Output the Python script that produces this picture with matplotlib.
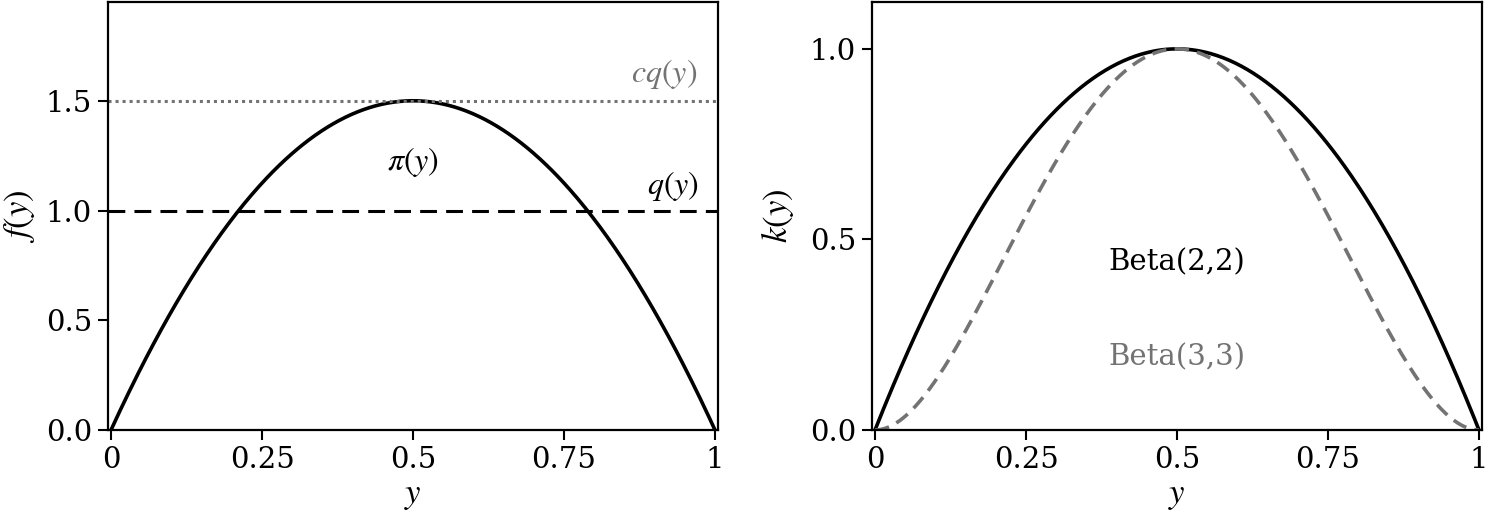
import numpy as np
import matplotlib
matplotlib.use("Agg")
import matplotlib.pyplot as plt

# beta shape parameters for the curves
target_ab = (2, 2)          # pi(y), left panel
proposal_level = 1.0        # q(y) uniform
envelope_c = 1.5            # c * q(y)
kernel_ab = [(2, 2), (3, 3)]
kernel_labels = ["Beta(2,2)", "Beta(3,3)"]
kernel_colors = ["black", "0.45"]
kernel_styles = ["-", "--"]

xticks = [0, 0.25, 0.5, 0.75, 1]
xticklabels = ["0", "0.25", "0.5", "0.75", "1"]

plt.rcParams["font.family"] = "DejaVu Serif"
plt.rcParams["mathtext.fontset"] = "stix"
plt.rcParams["font.size"] = 21

y = np.linspace(0, 1, 400)

def beta_kernel(a, b):
    k = y ** (a - 1) * (1 - y) ** (b - 1)
    return k

fig = plt.figure(figsize=(14.94, 5.17), dpi=100)
ax1 = fig.add_axes([108 / 1494, 87 / 517, 610 / 1494, 428 / 517])
ax2 = fig.add_axes([872 / 1494, 87 / 517, 610 / 1494, 428 / 517])

# left panel
k = beta_kernel(*target_ab)
pi = k / np.trapezoid(k, y)
ax1.plot(y, pi, color="black", lw=2.6)
ax1.axhline(proposal_level, color="black", ls=(0, (5.5, 3)), lw=2.2)
ax1.axhline(envelope_c * proposal_level, color="0.45", ls=(0, (1, 1.3)), lw=2.2)
ax1.text(0.5, 1.22, r"$\pi(y)$", ha="center", va="center", fontsize=23)
ax1.text(0.93, 1.11, r"$q(y)$", ha="center", va="center", fontsize=23)
ax1.text(0.915, 1.62, r"$cq(y)$", ha="center", va="center", fontsize=23, color="0.45")
ax1.set_xlim(-0.005, 1.005)
ax1.set_ylim(0, 1.95)
ax1.set_yticks([0, 0.5, 1.0, 1.5])
ax1.set_ylabel(r"$f(y)$", fontsize=25, labelpad=6)

# right panel
for (a, b), lab, c, ls in zip(kernel_ab, kernel_labels, kernel_colors, kernel_styles):
    k = beta_kernel(a, b)
    k = k / k.max()
    if ls == "--":
        ax2.plot(y, k, color=c, ls=(0, (4, 2.3)), lw=2.6)
    else:
        ax2.plot(y, k, color=c, lw=2.6)
ax2.text(0.5, 0.44, kernel_labels[0], ha="center", va="center", color=kernel_colors[0])
ax2.text(0.5, 0.19, kernel_labels[1], ha="center", va="center", color=kernel_colors[1])
ax2.set_xlim(-0.005, 1.005)
ax2.set_ylim(0, 1.123)
ax2.set_yticks([0, 0.5, 1.0])
ax2.set_ylabel(r"$k(y)$", fontsize=25, labelpad=10)

for ax in (ax1, ax2):
    ax.set_xticks(xticks)
    ax.set_xticklabels(xticklabels)
    ax.set_xlabel(r"$y$", fontsize=25, labelpad=3)
    ax.tick_params(width=1.5, length=7, pad=4.5)
    for s in ax.spines.values():
        s.set_linewidth(1.6)

fig.savefig("out.png", dpi=100)
